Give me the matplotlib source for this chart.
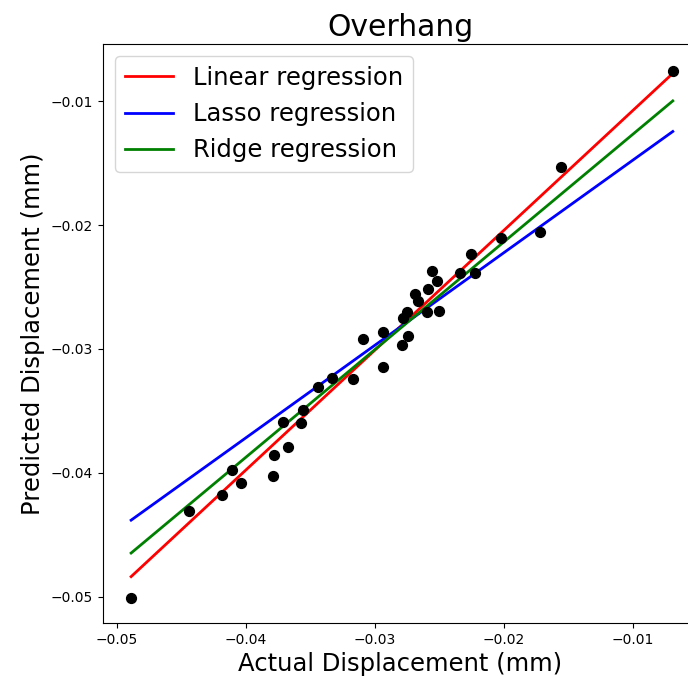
import numpy as np
import matplotlib
matplotlib.use('Agg')
import matplotlib.pyplot as plt

# actual vs predicted displacement (mm)
actual=[-0.00692,-0.01558,-0.01721,-0.02026,-0.02258,-0.02225,-0.02341,-0.02560,-0.02522,
        -0.02587,-0.02690,-0.02669,-0.02502,-0.02599,-0.02754,-0.02783,-0.02936,-0.02747,
        -0.02795,-0.02942,-0.03091,-0.03173,-0.03336,-0.03444,-0.03560,-0.03713,-0.03576,
        -0.03672,-0.03781,-0.03793,-0.04107,-0.04036,-0.04188,-0.04442,-0.04891]
predicted=[-0.00758,-0.01530,-0.02054,-0.02107,-0.02236,-0.02390,-0.02385,-0.02369,-0.02452,
           -0.02519,-0.02559,-0.02613,-0.02694,-0.02702,-0.02702,-0.02752,-0.02867,-0.02895,
           -0.02968,-0.03149,-0.02922,-0.03242,-0.03231,-0.03309,-0.03492,-0.03586,-0.03599,
           -0.03788,-0.03855,-0.04027,-0.03976,-0.04078,-0.04177,-0.04304,-0.05011]

# fitted lines: name, slope, intercept, colour
models=['Linear regression','Lasso regression','Ridge regression']
slopes=[0.9667,0.7466,0.8685]
intercepts=[-0.00108,-0.00729,-0.00398]
colors=['r','b','g']

fig=plt.figure(figsize=(6.88,6.79),dpi=100)
ax=fig.add_axes([0.1497,0.0825,0.8642,0.8527])

ax.scatter(actual,predicted,color='black',s=50,zorder=3)
xs=np.array([min(actual),max(actual)])
for name,m,b,c in zip(models,slopes,intercepts,colors):
    ax.plot(xs,m*xs+b,color=c,lw=2,label=name)

ax.set_xlim(-0.05109,-0.0050)
ax.set_ylim(-0.0521,-0.0054)
ax.set_xticks([-0.05,-0.04,-0.03,-0.02,-0.01])
ax.set_yticks([-0.05,-0.04,-0.03,-0.02,-0.01])
ax.tick_params(labelsize=10)
ax.set_title('Overhang',fontsize=21.5)
ax.set_xlabel('Actual Displacement (mm)',fontsize=17.5)
ax.set_ylabel('Predicted Displacement (mm)',fontsize=17.5)
ax.legend(loc='upper left',fontsize=17.5)

plt.savefig('out.png',dpi=100)
